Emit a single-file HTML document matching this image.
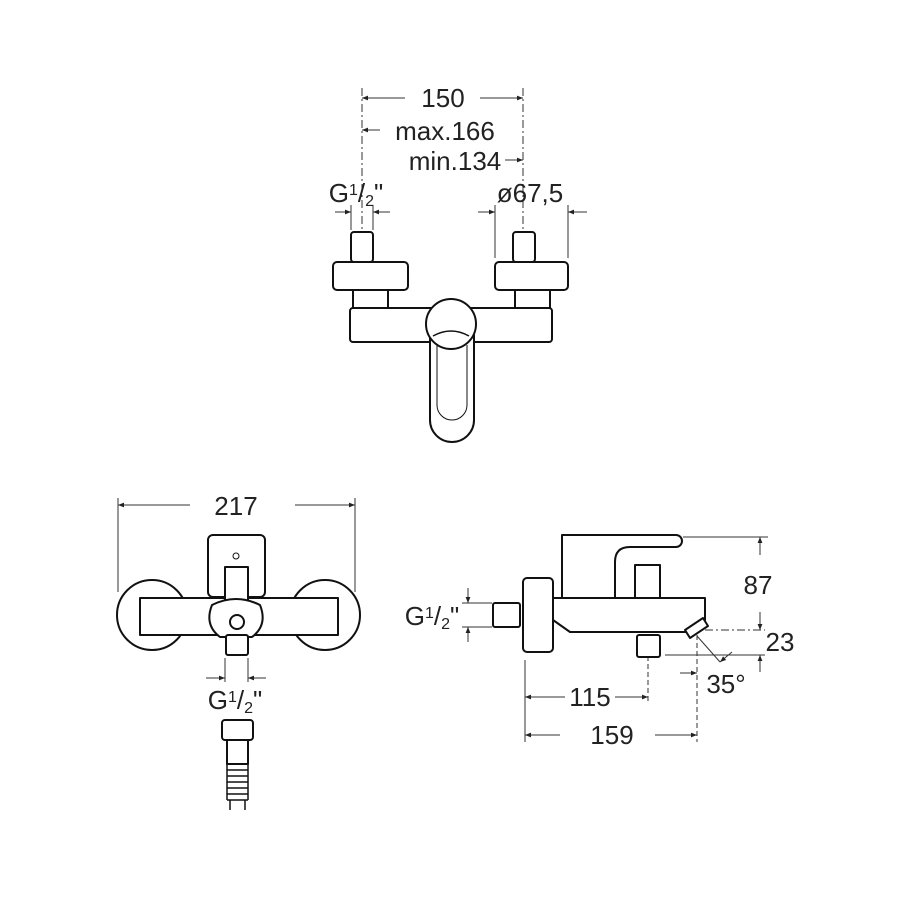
<!DOCTYPE html><html><head><meta charset="utf-8"><style>body{margin:0;background:#fff}svg{display:block}text{font-family:"Liberation Sans",sans-serif;fill:#222}</style></head><body>
<svg width="900" height="900" viewBox="0 0 900 900" xmlns="http://www.w3.org/2000/svg">
<defs><marker id="a" viewBox="0 0 10 10" refX="10" refY="5" markerWidth="9" markerHeight="6" orient="auto"><path d="M0,1 L10,5 L0,9 z" fill="#222"/></marker></defs>
<g stroke="#333" stroke-width="1" fill="none">
<path d="M362 88V235M523 88V235" stroke-dasharray="8,3,2,3"/>
<path d="M405 98H362" marker-end="url(#a)"/><path d="M480 98H523" marker-end="url(#a)"/>
<path d="M380 130H362" marker-end="url(#a)"/>
<path d="M505 160H523" marker-end="url(#a)"/>
<path d="M335 212H351" marker-end="url(#a)"/><path d="M390 212H373" marker-end="url(#a)"/>
<path d="M478 212H495" marker-end="url(#a)"/><path d="M587 212H568" marker-end="url(#a)"/>
<path d="M351 205V230M373 205V230M495 205V258M568 205V258"/>
<path d="M190 505H118" marker-end="url(#a)"/><path d="M295 505H355" marker-end="url(#a)"/>
<path d="M118 498V592M355 498V592"/>
<path d="M206 678H225" marker-end="url(#a)"/><path d="M266 678H248" marker-end="url(#a)"/>
<path d="M225 658V682M248 658V682"/>
<path d="M683 537H768M665 655H765"/>
<path d="M705 630H765" stroke-dasharray="8,3,2,3"/>
<path d="M760 555V537" marker-end="url(#a)"/><path d="M760 612V630" marker-end="url(#a)"/>
<path d="M760 672V655" marker-end="url(#a)"/>
<path d="M468 588V603" marker-end="url(#a)"/><path d="M468 642V627" marker-end="url(#a)"/>
<path d="M462 603H492M462 627H492"/>
<path d="M525 660V742"/>
<path d="M648 640V702M697 635V742" stroke-dasharray="5,3"/>
<path d="M565 697H525" marker-end="url(#a)"/><path d="M615 697H648" marker-end="url(#a)"/>
<path d="M560 735H525" marker-end="url(#a)"/><path d="M655 735H697" marker-end="url(#a)"/>
<path d="M680 673H697" marker-end="url(#a)"/>
<path d="M697 636L720 662"/>
<path d="M732 652L720 662" marker-end="url(#a)"/>
</g>
<g stroke="#111" stroke-width="2" fill="#fff" stroke-linejoin="round">
<rect x="353" y="288" width="35" height="22"/><rect x="515" y="288" width="35" height="22"/>
<rect x="333" y="262" width="75" height="28" rx="4"/><rect x="495" y="262" width="73" height="28" rx="4"/>
<rect x="351" y="232" width="22" height="30" rx="3"/><rect x="513" y="232" width="22" height="30" rx="3"/>
<rect x="350" y="308" width="202" height="34" rx="3"/>
<path d="M430 335 V420 a22 22 0 0 0 44 0 V335z"/>
<path d="M437 345V405a15 15 0 0 0 30 0V345" stroke-width="1" fill="none"/>
<circle cx="451" cy="324" r="25"/>
<path d="M433 336 q18 -10 36 0" fill="none" stroke-width="1.5"/>
<circle cx="152" cy="615" r="35"/><circle cx="325" cy="615" r="35"/>
<rect x="208" y="535" width="57" height="62" rx="5"/>
<rect x="140" y="598" width="198" height="37"/>
<circle cx="236" cy="556" r="3" stroke-width="1"/>
<rect x="225" y="567" width="23" height="38"/>
<path d="M212 605 q24 -12 48 0 q8 20 -8 32 h-32 q-16 -12 -8 -32z"/>
<rect x="226" y="635" width="22" height="20" rx="2"/>
<circle cx="237" cy="622" r="7"/>
<rect x="222" y="720" width="31" height="20" rx="3"/>
<rect x="227" y="740" width="21" height="24"/>
<path d="M227 764h21M227 770h21M227 776h21M227 782h21M227 788h21M227 794h21M227 800h21M227 764V800M248 764V800M230 800v10M245 800v10" fill="none" stroke-width="1.5"/>
<rect x="493" y="603" width="27" height="24" rx="2"/>
<rect x="523" y="578" width="30" height="74" rx="4"/>
<path d="M562 600V535H676a6 6 0 0 1 0 12H630q-15 0 -15 15V600z"/>
<rect x="635" y="565" width="25" height="35"/>
<path d="M553 598H705V620L695 632H570L553 620z"/>
<rect x="637" y="635" width="23" height="22" rx="2"/>
<path d="M685 630L703 618L708 626L690 638z"/>
</g>
<g font-size="26" text-anchor="middle">
<text x="443" y="107">150</text>
<text x="445" y="140">max.166</text>
<text x="455" y="170">min.134</text>
<text x="356" y="202">G<tspan font-size="16" dy="-7">1</tspan><tspan dy="7">/</tspan><tspan font-size="16" dy="4">2</tspan><tspan dy="-4">"</tspan></text>
<text x="530" y="202">ø67,5</text>
<text x="236" y="515">217</text>
<text x="235" y="709">G<tspan font-size="16" dy="-7">1</tspan><tspan dy="7">/</tspan><tspan font-size="16" dy="4">2</tspan><tspan dy="-4">"</tspan></text>
<text x="432" y="625">G<tspan font-size="16" dy="-7">1</tspan><tspan dy="7">/</tspan><tspan font-size="16" dy="4">2</tspan><tspan dy="-4">"</tspan></text>
<text x="758" y="594">87</text>
<text x="780" y="651">23</text>
<text x="726" y="693">35°</text>
<text x="590" y="706">115</text>
<text x="612" y="744">159</text>
</g>
</svg></body></html>
